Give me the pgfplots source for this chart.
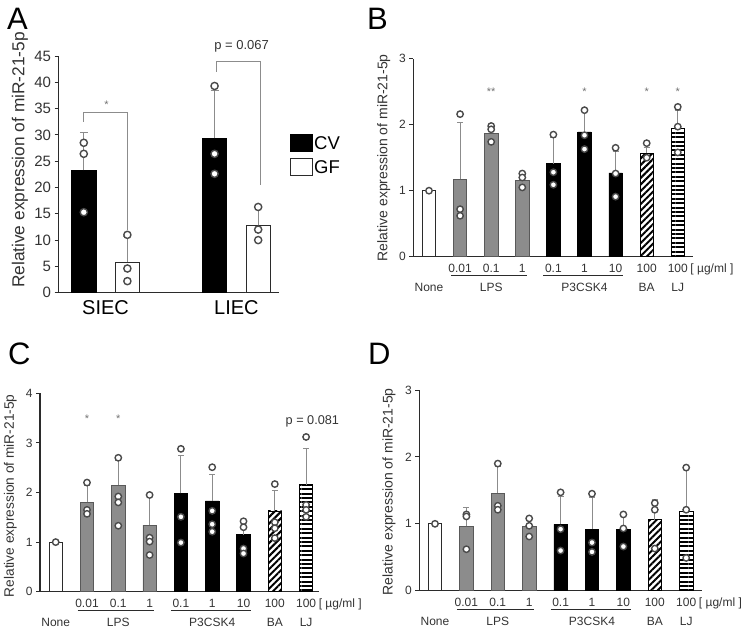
\documentclass[border=0pt]{standalone}
\usepackage{fontspec}
\setmainfont{Liberation Sans}
\usepackage{pgfplots}
\pgfplotsset{compat=1.18}
\usetikzlibrary{patterns.meta}
\definecolor{axisc}{HTML}{2B2B2B}
\definecolor{barg}{HTML}{8C8C8C}
\definecolor{errc}{HTML}{8C8C8C}
\definecolor{ptc}{HTML}{4A4A4A}
\definecolor{txtc}{HTML}{333333}
\newcommand{\fs}[1]{\fontsize{#1}{#1}\selectfont}
\tikzset{num/.style={anchor=base, font=\fs{12}, text=txtc, inner sep=0pt},
  star/.style={font=\fs{11}, text=black!55, inner sep=0pt}}
\pgfplotsset{
  panel/.style={scale only axis, axis x line=bottom, axis y line=left,
    axis line style={-, axisc, line width=1.1pt},
    x axis line style={-}, y axis line style={-},
    every outer x axis line/.append style={-},
    every outer y axis line/.append style={-},
    tick align=outside, xtick=\empty, major tick length=4pt,
    ytick style={axisc, line width=1pt},
    clip=false, ymin=0,
    /pgf/number format/assume math mode=true,
    yticklabel style={text=txtc}},
  errb/.style={/pgfplots/error bars/y dir=plus, /pgfplots/error bars/y explicit,
    /pgfplots/error bars/error bar style={errc, line width=0.9pt},
    /pgfplots/error bars/error mark options={rotate=90, errc, mark size=3pt, line width=0.9pt}},
  sbar/.style={ybar, bar shift=0pt, bar width=0.43, line width=0.7pt},
  pts/.style={only marks, mark=*, mark size=3.2pt, mark options={fill=white, draw=ptc, line width=1.4pt}},
}
\newcommand{\catlabels}{%
  \node[num] at ([yshift=-16pt]axis cs:1,0) {0.01};
  \node[num] at ([yshift=-16pt]axis cs:2,0) {0.1};
  \node[num] at ([yshift=-16pt]axis cs:3,0) {1};
  \node[num] at ([yshift=-16pt]axis cs:4,0) {0.1};
  \node[num] at ([yshift=-16pt]axis cs:5,0) {1};
  \node[num] at ([yshift=-16pt]axis cs:6,0) {10};
  \node[num] at ([yshift=-16pt]axis cs:7,0) {100};
  \node[num] at ([yshift=-16pt]axis cs:8,0) {100};
  \node[num, anchor=base west] at ([yshift=-16pt]axis cs:8.4,0) {[ µg/ml ]};
  \draw[axisc, line width=0.9pt] ([yshift=-18.5pt]axis cs:0.7,0) -- ([yshift=-18.5pt]axis cs:3.15,0);
  \draw[axisc, line width=0.9pt] ([yshift=-18.5pt]axis cs:3.68,0) -- ([yshift=-18.5pt]axis cs:6.25,0);
  \node[num] at ([yshift=-35pt]axis cs:0,0) {None};
  \node[num] at ([yshift=-35pt]axis cs:2,0) {LPS};
  \node[num] at ([yshift=-35pt]axis cs:5,0) {P3CSK4};
  \node[num] at ([yshift=-35pt]axis cs:7,0) {BA};
  \node[num] at ([yshift=-35pt]axis cs:8,0) {LJ};
}
\begin{document}
\begin{tikzpicture}
\useasboundingbox (0,0) rectangle (745pt,630pt);

% ---------------- Panel A ----------------
\begin{axis}[panel, at={(58.5pt,337.3pt)}, anchor=south west,
  width=220.6pt, height=236.7pt, xmin=-0.58, xmax=4.48, ymax=45,
  ytick={0,5,...,45}, yticklabel style={font=\fs{15}},
  legend style={at={(1.050,0.6726)}, anchor=north west, draw=none, fill=none,
    font=\fs{18.5}, inner sep=0pt, row sep=6.3pt, nodes={inner sep=1.5pt, text=black}},
  legend cell align=left,
  legend image code/.code={\draw[#1, line width=0.8pt] (0pt,-7.7pt) rectangle (21.6pt,9.3pt);}]
\addplot[ybar, bar shift=0pt, bar width=0.56, fill=black, draw=black, line width=0.7pt, errb,
  /pgfplots/error bars/error mark options={rotate=90, errc, mark size=4pt, line width=0.9pt}]
  coordinates {(0,23.3) +- (0,7.1) (3,29.4) +- (0,9.0)};
\addlegendentry{CV}
\addplot[ybar, bar shift=0pt, bar width=0.56, fill=white, draw=axisc, line width=0.7pt, errb,
  /pgfplots/error bars/error mark options={rotate=90, errc, mark size=4pt, line width=0.9pt}]
  coordinates {(1,5.8) +- (0,4.8) (4,12.8) +- (0,3.5)};
\addlegendentry{GF}
\addplot[pts, mark size=3.6pt, forget plot] coordinates {
  (0,28.5) (0,26.4) (0,15.3) (3,39.3) (3,26.4) (3,22.6)
  (1,11.0) (1,4.6) (1,2.2) (4,16.3) (4,12.0) (4,10.0)};
\draw[errc, line width=0.9pt] (axis cs:0,32.5) -- (axis cs:0,34.2) -- (axis cs:1,34.2) -- (axis cs:1,11.9);
\node[star] at (axis cs:0.52,35.7) {*};
\draw[errc, line width=0.9pt] (axis cs:3.05,42) -- (axis cs:3.05,44) -- (axis cs:4.05,44) -- (axis cs:4.05,20.5);
\node[font=\fs{13}, text=txtc, inner sep=0pt] at (axis cs:3.62,46.8) {p = 0.067};
\node[anchor=base, font=\fs{20}, inner sep=0pt] at ([yshift=-22.3pt]axis cs:0.5,0) {SIEC};
\node[anchor=base, font=\fs{20}, inner sep=0pt] at ([yshift=-22.3pt]axis cs:3.5,0) {LIEC};
\end{axis}

% ---------------- Panel B ----------------
\begin{axis}[panel, at={(413.45pt,373.3pt)}, anchor=south west,
  width=279.9pt, height=198pt, xmin=-0.5, xmax=8.5, ymax=3,
  ytick={0,1,2,3}, yticklabel style={font=\fs{12}}]
\addplot[sbar, fill=white, draw=axisc] coordinates {(0,1.0)};
\addplot[sbar, fill=barg, draw=black!65, errb] coordinates {(1,1.17) +- (0,0.87) (2,1.87) +- (0,0.10) (3,1.16) +- (0,0.09)};
\addplot[sbar, fill=black, draw=black, errb] coordinates {(4,1.41) +- (0,0.39) (5,1.89) +- (0,0.31) (6,1.27) +- (0,0.33)};
\addplot[sbar, draw=black, pattern={Lines[angle=45,distance=4.6pt,line width=2pt]}, pattern color=black, errb] coordinates {(7,1.57) +- (0,0.09)};
\addplot[sbar, draw=black, pattern={Lines[angle=0,distance=4.4pt,line width=2pt]}, pattern color=black, errb] coordinates {(8,1.94) +- (0,0.28)};
\addplot[pts] coordinates {
  (0,1.0) (1,2.16) (1,0.72) (1,0.62) (2,1.98) (2,1.93) (2,1.74)
  (3,1.26) (3,1.20) (3,1.05) (4,1.85) (4,1.28) (4,1.09)
  (5,2.22) (5,1.84) (5,1.63) (6,1.65) (6,1.26) (6,0.91)
  (7,1.72) (7,1.50) (8,2.27) (8,1.97) (8,1.58)};
\node[star] at (axis cs:2,2.5) {**};
\node[star] at (axis cs:5,2.5) {*};
\node[star] at (axis cs:7,2.5) {*};
\node[star] at (axis cs:8,2.5) {*};
\catlabels
\end{axis}

% ---------------- Panel C ----------------
\begin{axis}[panel, at={(40.05pt,38.3pt)}, anchor=south west,
  width=278.6pt, height=198.4pt, xmin=-0.5, xmax=8.4, ymax=4,
  ytick={0,1,2,3,4}, yticklabel style={font=\fs{12}}]
\addplot[sbar, fill=white, draw=axisc] coordinates {(0,1.0)};
\addplot[sbar, fill=barg, draw=black!65, errb] coordinates {(1,1.80) +- (0,0.35) (2,2.15) +- (0,0.50) (3,1.34) +- (0,0.59)};
\addplot[sbar, fill=black, draw=black, errb] coordinates {(4,1.98) +- (0,0.76) (5,1.83) +- (0,0.54) (6,1.15) +- (0,0.25)};
\addplot[sbar, draw=black, pattern={Lines[angle=45,distance=4.6pt,line width=2pt]}, pattern color=black, errb] coordinates {(7,1.63) +- (0,0.42)};
\addplot[sbar, draw=black, pattern={Lines[angle=0,distance=4.4pt,line width=2pt]}, pattern color=black, errb] coordinates {(8,2.16) +- (0,0.73)};
\addplot[pts] coordinates {
  (0,1.0) (1,2.20) (1,1.65) (1,1.57) (2,2.70) (2,1.92) (2,1.80) (2,1.33)
  (3,1.95) (3,1.09) (3,1.01) (3,0.74) (4,2.88) (4,1.51) (4,0.99)
  (5,2.51) (5,1.63) (5,1.36) (5,1.21) (6,1.42) (6,1.30) (6,0.87) (6,0.77)
  (7,2.17) (7,1.40) (7,1.28) (7,1.08) (8,3.12) (8,1.75) (8,1.65) (8,1.51)};
\node[star] at (axis cs:1,3.49) {*};
\node[star] at (axis cs:2,3.49) {*};
\node[font=\fs{12.7}, text=txtc, inner sep=0pt] at (axis cs:8.2,3.43) {p = 0.081};
\catlabels
\end{axis}

% ---------------- Panel D ----------------
\begin{axis}[panel, at={(419.3pt,39.3pt)}, anchor=south west,
  width=282.6pt, height=200.7pt, xmin=-0.5, xmax=8.5, ymax=3,
  ytick={0,1,2,3}, yticklabel style={font=\fs{12}}]
\addplot[sbar, fill=white, draw=axisc] coordinates {(0,1.0)};
\addplot[sbar, fill=barg, draw=black!65, errb] coordinates {(1,0.96) +- (0,0.29) (2,1.46) +- (0,0.39) (3,0.96) +- (0,0.11)};
\addplot[sbar, fill=black, draw=black, errb] coordinates {(4,0.99) +- (0,0.42) (5,0.92) +- (0,0.47) (6,0.91) +- (0,0.21)};
\addplot[sbar, draw=black, pattern={Lines[angle=45,distance=4.6pt,line width=2pt]}, pattern color=black, errb] coordinates {(7,1.06) +- (0,0.31)};
\addplot[sbar, draw=black, pattern={Lines[angle=0,distance=4.4pt,line width=2pt]}, pattern color=black, errb] coordinates {(8,1.18) +- (0,0.64)};
\addplot[pts] coordinates {
  (0,1.0) (1,1.14) (1,1.11) (1,0.62) (2,1.90) (2,1.27) (2,1.21)
  (3,1.08) (3,0.97) (3,0.81) (4,1.47) (4,0.92) (4,0.60)
  (5,1.45) (5,0.72) (5,0.58) (6,1.14) (6,0.93) (6,0.66)
  (7,1.31) (7,1.21) (7,0.63) (8,1.84) (8,1.21) (8,0.49)};
\catlabels
\end{axis}

% ---------------- panel letters and y labels ----------------
\node[anchor=base west, font=\fs{31}, inner sep=0pt] at (7pt,600.5pt) {A};
\node[anchor=base west, font=\fs{31}, inner sep=0pt] at (367pt,600.5pt) {B};
\node[anchor=base west, font=\fs{31}, inner sep=0pt] at (8pt,265.5pt) {C};
\node[anchor=base west, font=\fs{31}, inner sep=0pt] at (368pt,265.5pt) {D};
\node[rotate=90, font=\fs{17.3}, text=txtc, inner sep=0pt] at (20pt,470pt) {Relative expression of miR-21-5p};
\node[rotate=90, font=\fs{14}, text=txtc, inner sep=0pt] at (383.7pt,472.3pt) {Relative expression of miR-21-5p};
\node[rotate=90, font=\fs{13.7}, text=txtc, inner sep=0pt] at (10.3pt,134.2pt) {Relative expression of miR-21-5p};
\node[rotate=90, font=\fs{14}, text=txtc, inner sep=0pt] at (389pt,138.3pt) {Relative expression of miR-21-5p};
\end{tikzpicture}
\end{document}
